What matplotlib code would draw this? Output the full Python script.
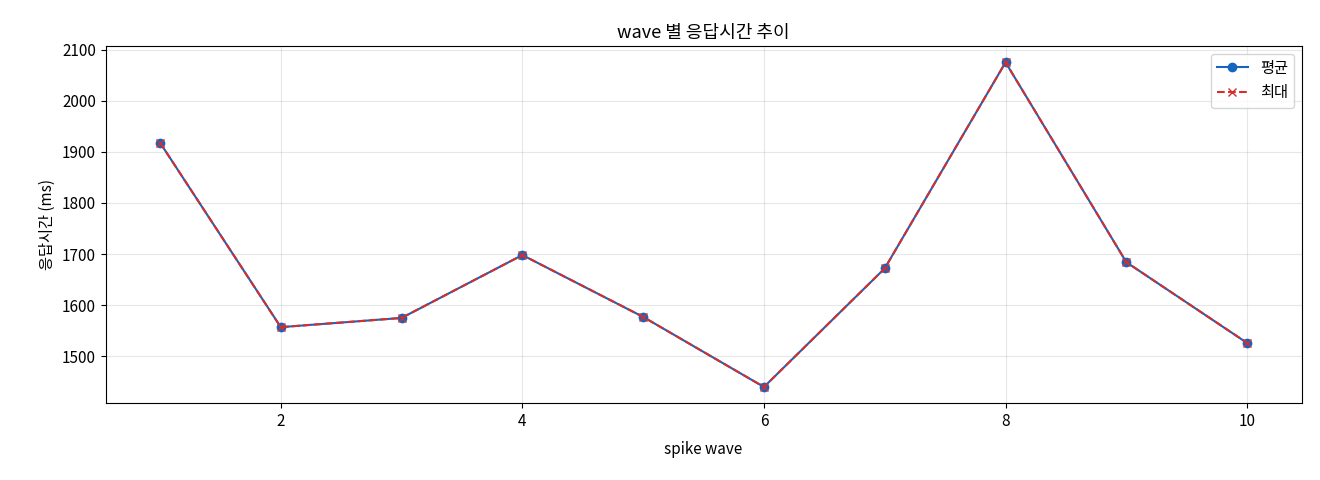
import numpy as np
import matplotlib
matplotlib.use("Agg")
import matplotlib.pyplot as plt

plt.rcParams['font.family'] = ['Noto Sans CJK KR', 'DejaVu Sans']

waves = [1, 2, 3, 4, 5, 6, 7, 8, 9, 10]
avg_ms = [1918, 1557, 1575, 1698, 1577, 1440, 1672, 2075, 1684, 1526]
max_ms = [1918, 1557, 1575, 1698, 1577, 1440, 1672, 2075, 1684, 1526]

fig, ax = plt.subplots(figsize=(13.2, 4.8), dpi=100)
ax.plot(waves, avg_ms, marker='o', color='#1565C0', label='평균')
ax.plot(waves, max_ms, marker='x', linestyle='--', color='#D32F2F', label='최대')

ax.set_title('wave 별 응답시간 추이', fontsize=13)
ax.set_xlabel('spike wave', fontsize=11, labelpad=8)
ax.set_ylabel('응답시간 (ms)', fontsize=11)
ax.tick_params(labelsize=11)
ax.grid(True, alpha=0.3)
ax.legend(loc='upper right', fontsize=11)

plt.subplots_adjust(left=0.08, right=0.986, top=0.904, bottom=0.16)
plt.savefig('out.png')
